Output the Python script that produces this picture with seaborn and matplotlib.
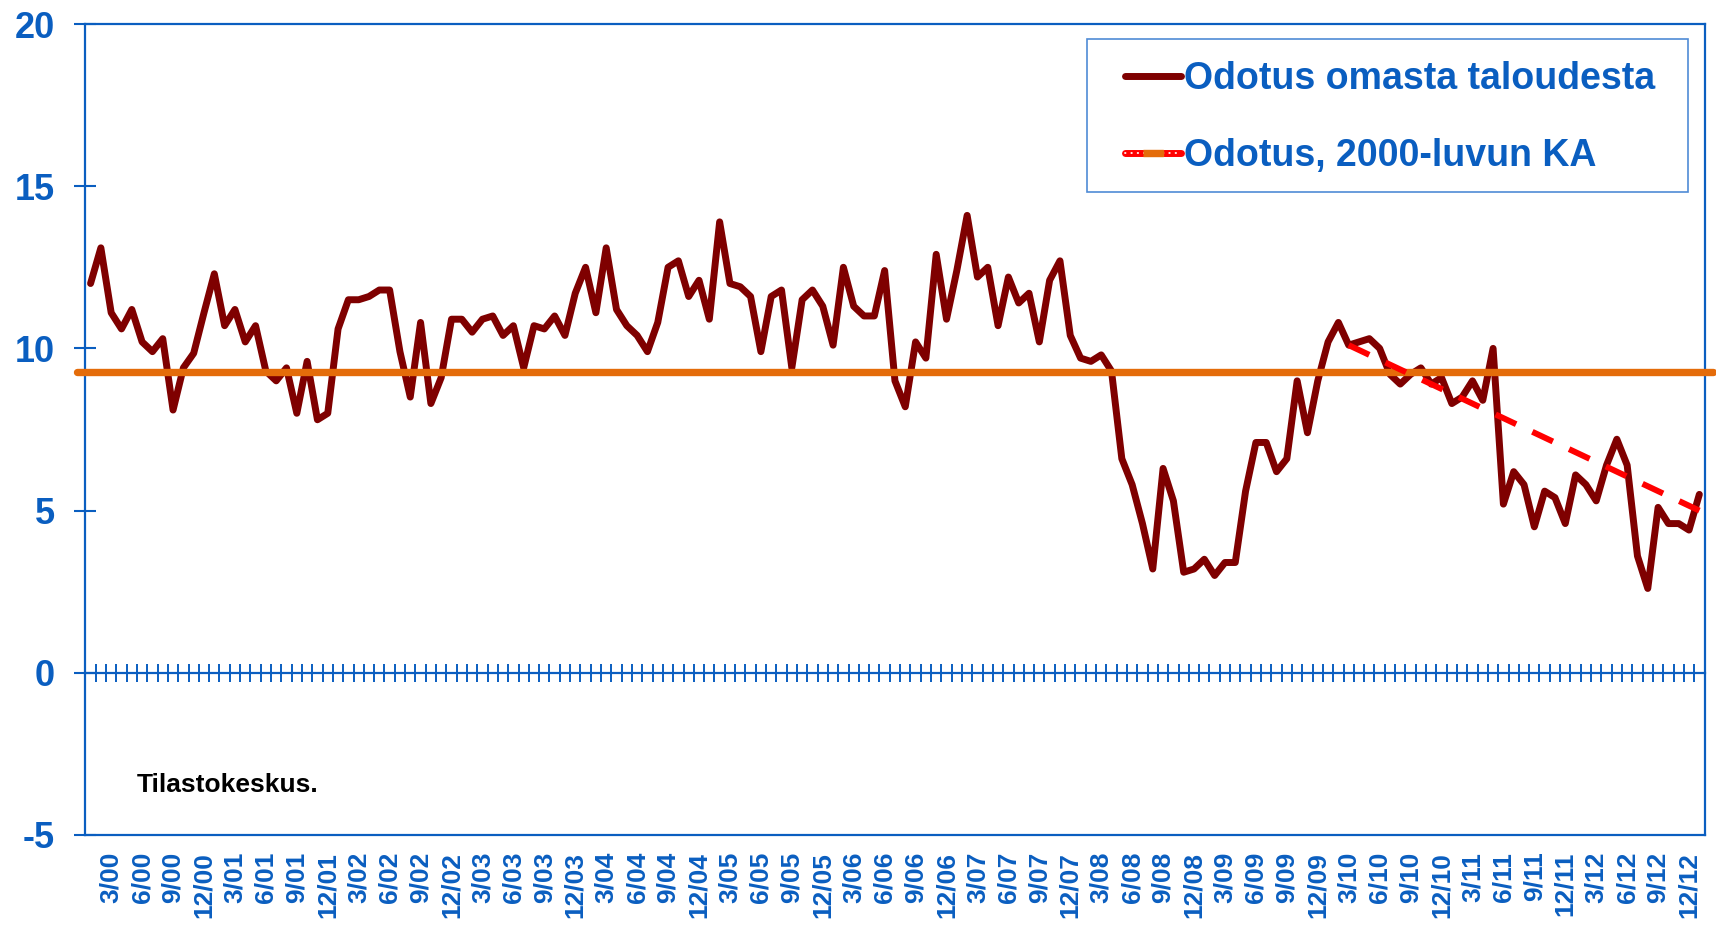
import numpy as np
import pandas as pd
import matplotlib
matplotlib.use("Agg")
import matplotlib.pyplot as plt
import seaborn as sns
from matplotlib.lines import Line2D
from matplotlib.legend_handler import HandlerTuple
from matplotlib.patches import Rectangle

# ---------------- data ----------------
values = [
    12.0, 13.1, 11.1, 10.6, 11.2, 10.2, 9.9, 10.3, 8.1, 9.4, 9.85, 11.1,      # 2000
    12.3, 10.7, 11.2, 10.2, 10.7, 9.3, 9.0, 9.4, 8.0, 9.6, 7.8, 8.0,          # 2001
    10.6, 11.5, 11.5, 11.6, 11.8, 11.8, 9.9, 8.5, 10.8, 8.3, 9.1, 10.9,       # 2002
    10.9, 10.5, 10.9, 11.0, 10.4, 10.7, 9.4, 10.7, 10.6, 11.0, 10.4, 11.7,    # 2003
    12.5, 11.1, 13.1, 11.2, 10.7, 10.4, 9.9, 10.8, 12.5, 12.7, 11.6, 12.1,    # 2004
    10.9, 13.9, 12.0, 11.9, 11.6, 9.9, 11.6, 11.8, 9.4, 11.5, 11.8, 11.3,     # 2005
    10.1, 12.5, 11.3, 11.0, 11.0, 12.4, 9.0, 8.2, 10.2, 9.7, 12.9, 10.9,      # 2006
    12.4, 14.1, 12.2, 12.5, 10.7, 12.2, 11.4, 11.7, 10.2, 12.1, 12.7, 10.4,   # 2007
    9.7, 9.6, 9.8, 9.3, 6.6, 5.8, 4.6, 3.2, 6.3, 5.3, 3.1, 3.2,               # 2008
    3.5, 3.0, 3.4, 3.4, 5.6, 7.1, 7.1, 6.2, 6.6, 9.0, 7.4, 9.0,               # 2009
    10.2, 10.8, 10.1, 10.2, 10.3, 10.0, 9.2, 8.9, 9.2, 9.4, 8.9, 9.1,         # 2010
    8.3, 8.5, 9.0, 8.4, 10.0, 5.2, 6.2, 5.8, 4.5, 5.6, 5.4, 4.6,              # 2011
    6.1, 5.8, 5.3, 6.4, 7.2, 6.4, 3.6, 2.6, 5.1, 4.6, 4.6, 4.4,               # 2012
    5.5,                                                                       # 2013
]
avg_value = 9.28
trend_idx = [122, 156]
trend_vals = [10.1, 5.0]
series_label = "Odotus omasta taloudesta"
avg_label = "Odotus, 2000-luvun KA"
source_text = "Tilastokeskus."
yticks = [-5, 0, 5, 10, 15, 20]
start_year = 2000

n = len(values)
tick_idx = [i for i in range(n) if (i % 12 + 1) % 3 == 0]
tick_labels = [f"{i % 12 + 1}/{(start_year + i // 12) % 100:02d}" for i in tick_idx]

# ---------------- style ----------------
sns.set_theme(style="white")
plt.rcParams["font.family"] = ["Liberation Sans", "DejaVu Sans"]
plt.rcParams["axes.unicode_minus"] = False

BLUE = "#0A5EC0"
DARKRED = "#7F0000"
ORANGE = "#E46C0A"
RED = "#FF0000"

W, H = 1716, 926
fig = plt.figure(figsize=(W / 100, H / 100), dpi=100)
L, R, T, B = 85.4, 1704.5, 24, 835
ax = fig.add_axes([L / W, 1 - B / H, (R - L) / W, (B - T) / H])

df = pd.DataFrame({"idx": np.arange(n), "val": values})
sns.lineplot(data=df, x="idx", y="val", ax=ax, color=DARKRED, lw=5.0,
             legend=False, zorder=2)
ax.lines[-1].set_solid_joinstyle("round")

ax.axhline(avg_value, xmin=-0.005, xmax=1.005, color=ORANGE, lw=5.3,
           clip_on=False, zorder=3)

tdf = pd.DataFrame({"idx": trend_idx, "val": trend_vals})
sns.lineplot(data=tdf, x="idx", y="val", ax=ax, color=RED, lw=4.3,
             legend=False, zorder=4)
ax.lines[-1].set_dashes([3.8, 3.0])

ax.set_xlim(-0.5, n - 0.5)
ax.set_ylim(-5, 20)
ax.set_xlabel("")
ax.set_ylabel("")
ax.grid(False)

ax.set_xticks(tick_idx)
ax.set_xticklabels(tick_labels, rotation=90, fontweight="bold")
ax.tick_params(axis="x", length=0, pad=12, labelsize=19, labelcolor=BLUE)

ax.set_yticks(yticks)
ax.set_yticklabels([str(v) for v in yticks], fontweight="bold")
ax.tick_params(axis="y", direction="inout", left=True, length=16, width=1.5,
               color=BLUE, labelsize=26, labelcolor=BLUE, pad=14)

for sp in ax.spines.values():
    sp.set_visible(True)
    sp.set_color(BLUE)
    sp.set_linewidth(1.6)

# category axis crossing at zero with cross tick marks
sec = ax.secondary_xaxis((0 - yticks[0]) / (yticks[-1] - yticks[0]))
sec.set_xticks(np.arange(n + 1) - 0.5)
sec.tick_params(axis="x", direction="inout", length=13, width=1.4, color=BLUE,
                labelbottom=False, labeltop=False, bottom=True)
for sp in sec.spines.values():
    sp.set_color(BLUE)
    sp.set_linewidth(1.6)

# source note
ax.text(0.0319, 0.0617, source_text, transform=ax.transAxes, fontsize=19,
        fontweight="bold", color="black", va="center", ha="left")

# legend
rect_marker = [(-1.6, -0.5), (1.6, -0.5), (1.6, 0.5), (-1.6, 0.5)]
h1 = Line2D([], [], color=DARKRED, lw=5, solid_capstyle="round")
h2 = (
    Line2D([], [], color=RED, lw=5, solid_capstyle="round"),
    Line2D([], [], color="white", lw=1.3, ls=(0, (0.3, 3.2)),
           dash_capstyle="round"),
    Line2D([], [], ls="none", marker=rect_marker, markersize=15,
           markerfacecolor=ORANGE, markeredgecolor=ORANGE),
)
leg = ax.legend(handles=[h1, h2], labels=[series_label, avg_label],
                handler_map={tuple: HandlerTuple(ndivide=1, pad=0)},
                frameon=False, prop=dict(weight="bold", size=27),
                labelcolor=BLUE, handlelength=1.48, handletextpad=0.1,
                labelspacing=1.1, borderpad=0, borderaxespad=0,
                loc="upper left", bbox_to_anchor=(1125 / W, 1 - 61 / H),
                bbox_transform=fig.transFigure, numpoints=1)
leg.set_zorder(6)
ax.add_patch(Rectangle((1087 / W, 1 - 191.5 / H), (1688 - 1087) / W,
                       (191.5 - 39) / H, transform=fig.transFigure,
                       facecolor="white", edgecolor="#4F8BD6", lw=1.2,
                       clip_on=False, zorder=5))

fig.savefig("out.png", dpi=100)
